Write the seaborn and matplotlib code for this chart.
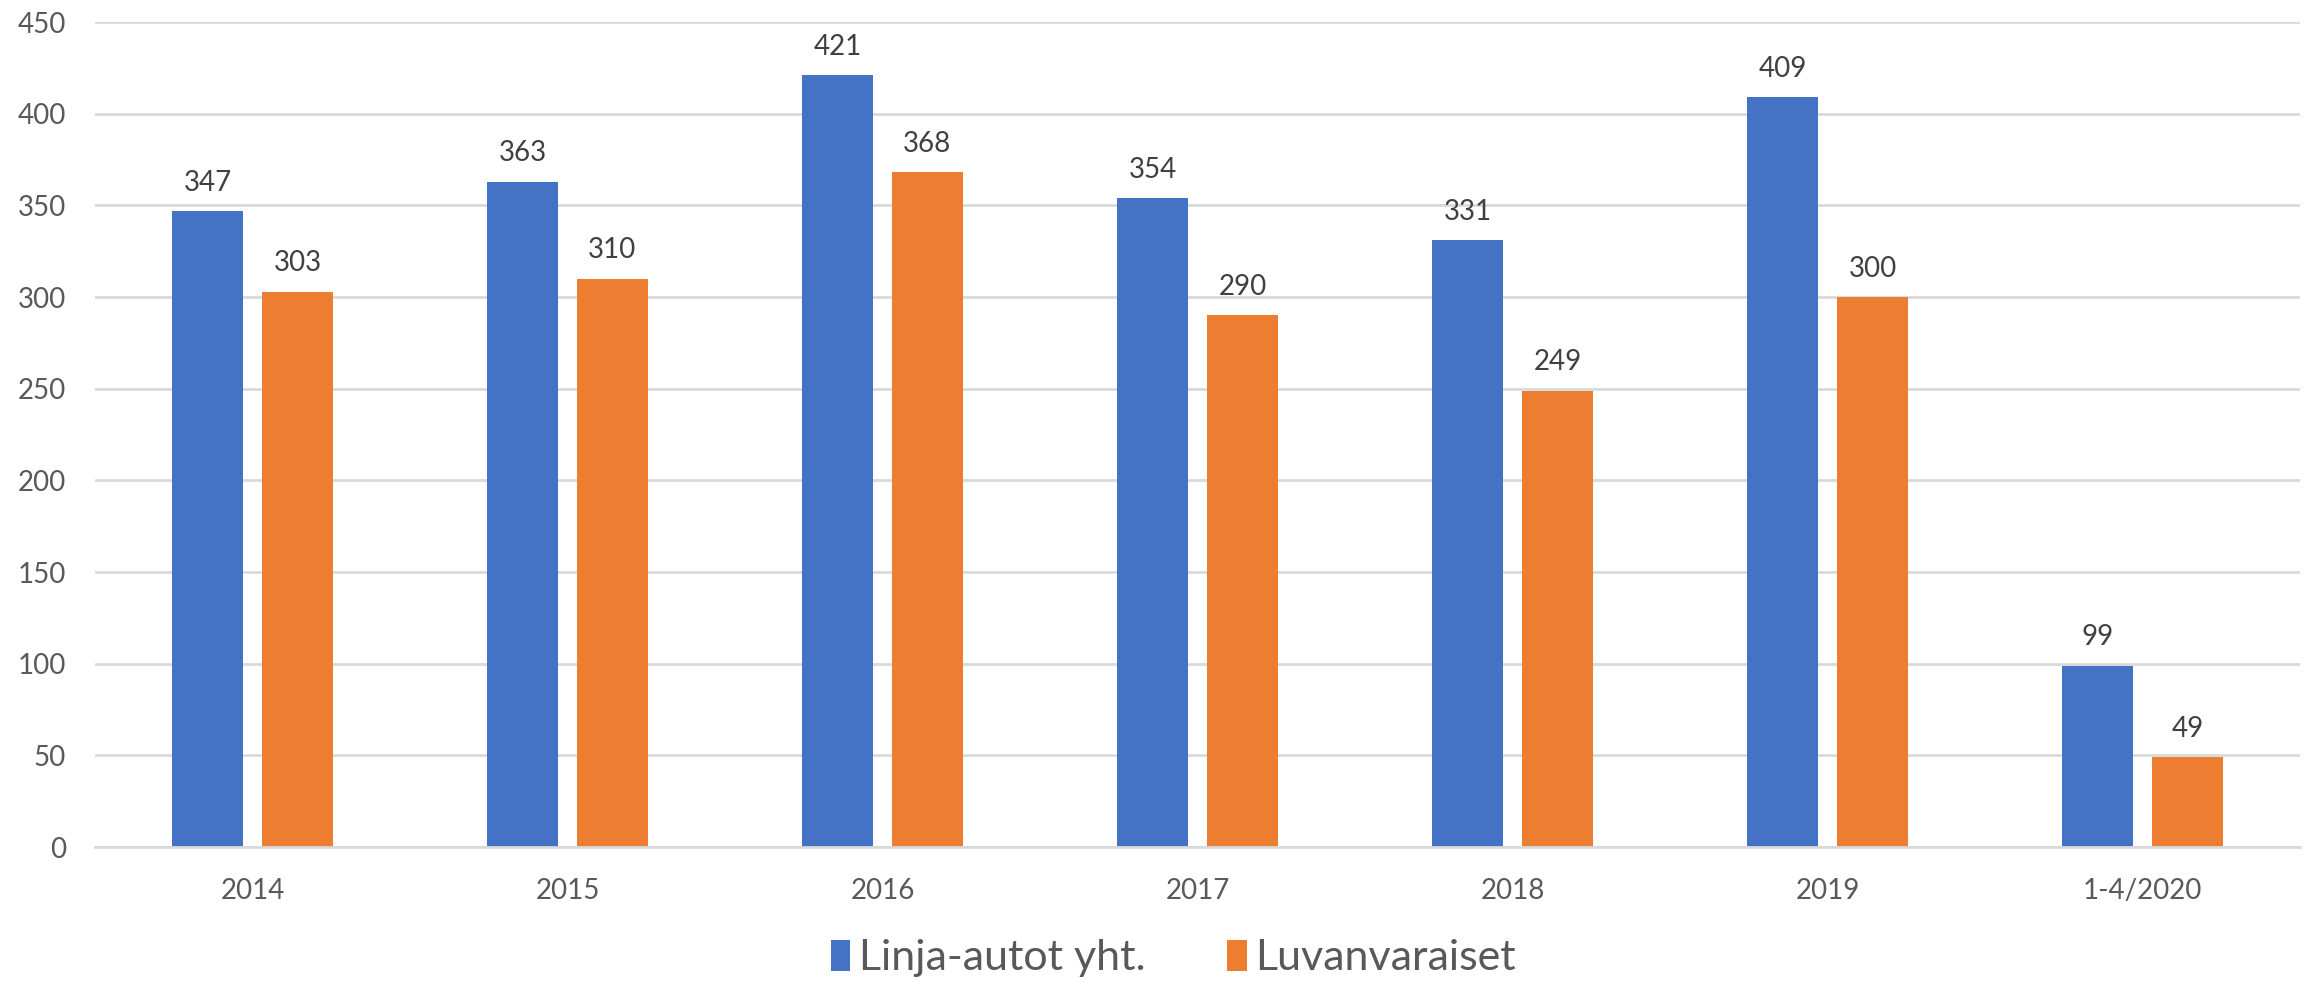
import pandas as pd
import matplotlib
matplotlib.use("Agg")
import matplotlib.pyplot as plt
import seaborn as sns

# Data
years = ['2014', '2015', '2016', '2017', '2018', '2019', '1-4/2020']
linja_autot = [347, 363, 421, 354, 331, 409, 99]
luvanvaraiset = [303, 310, 368, 290, 249, 300, 49]
series_names = ['Linja-autot yht.', 'Luvanvaraiset']
colors = ['#4472C4', '#ED7D31']
y_ticks = [0, 50, 100, 150, 200, 250, 300, 350, 400, 450]


def plot():
    df = pd.DataFrame({
        'year': years * 2,
        'value': linja_autot + luvanvaraiset,
        'series': [series_names[0]] * len(years) + [series_names[1]] * len(years),
    })

    sns.set_style('white')
    plt.rcParams['font.family'] = ['Lato', 'DejaVu Sans']

    fig = plt.figure(figsize=(23.1, 9.83), dpi=100)
    ax = fig.add_axes([0.0411, 0.1383, 0.9546, 0.8393])

    sns.barplot(data=df, x='year', y='value', hue='series', order=years,
                hue_order=series_names, palette=colors, width=0.571, gap=0.21,
                linewidth=0, saturation=1, errorbar=None, ax=ax, legend=True)

    # Value labels above bars
    for container in ax.containers:
        ax.bar_label(container, fmt='%d', padding=11, fontsize=20, color='#404040')

    ax.set_xlim(-0.5, len(years) - 0.5)
    ax.set_ylim(0, 450)
    ax.set_yticks(y_ticks)
    ax.yaxis.grid(True, color='#D9D9D9', linewidth=2)
    ax.set_axisbelow(True)
    for s in ['top', 'right', 'left']:
        ax.spines[s].set_visible(False)
    ax.spines['bottom'].set_color('#D9D9D9')
    ax.spines['bottom'].set_linewidth(2)
    ax.tick_params(axis='both', length=0, labelsize=20, labelcolor='#595959')
    ax.tick_params(axis='y', pad=21)
    ax.tick_params(axis='x', pad=22)
    ax.set_xlabel('')
    ax.set_ylabel('')

    # Legend at the bottom
    handles, labels = ax.get_legend_handles_labels()
    ax.get_legend().remove()
    leg = fig.legend(handles, labels, loc='center', bbox_to_anchor=(0.508, 0.025),
                     ncol=2, frameon=False, handlelength=0.45,
                     handleheight=0.75, handletextpad=0.2, columnspacing=1.9,
                     prop={'family': ['Lato', 'DejaVu Sans'], 'size': 31})
    for t in leg.get_texts():
        t.set_color('#595959')

    fig.savefig('out.png', dpi=100)


if __name__ == "__main__":
    plot()
